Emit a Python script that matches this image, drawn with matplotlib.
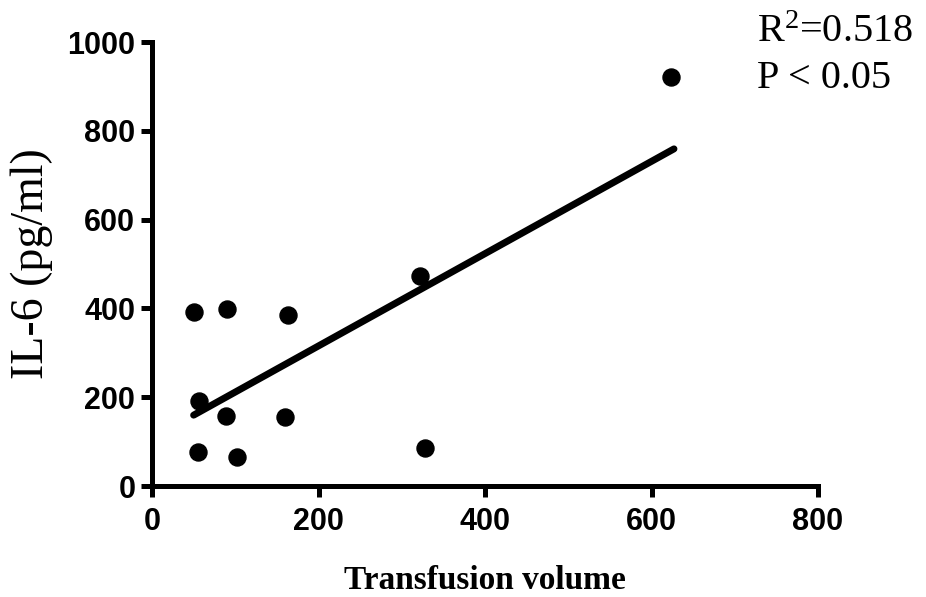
import numpy as np
import matplotlib
matplotlib.use("Agg")
import matplotlib.pyplot as plt

transfusion = [50, 90, 163, 56, 89, 160, 55, 102, 322, 328, 623]
il6 = [392, 399, 385, 191, 158, 155, 77, 65, 473, 86, 921]
x_ticks = [0, 200, 400, 600, 800]
y_ticks = [0, 200, 400, 600, 800, 1000]
stats_text = ["R$^{2}$=0.518", "P < 0.05"]

plt.rcParams['mathtext.fontset'] = 'custom'
plt.rcParams['mathtext.rm'] = 'Liberation Serif'
plt.rcParams['mathtext.it'] = 'Liberation Serif'

fig = plt.figure(figsize=(9.26, 5.97), dpi=100)
ax = fig.add_axes([152/926, 1-486/597, (818-152)/926, (486-42)/597])

x = np.array(transfusion, float)
y = np.array(il6, float)
slope, intercept = np.polyfit(x, y, 1)
xl = np.array([x.min(), x.max() + 4])
ax.plot(xl, slope*xl + intercept, color='black', lw=5, solid_capstyle='round', zorder=2)
ax.scatter(x, y, s=150, color='black', zorder=3, clip_on=False)

ax.set_xlim(0, 800)
ax.set_ylim(0, 1000)
ax.set_xticks(x_ticks)
ax.set_yticks(y_ticks)
for s in ['top', 'right']:
    ax.spines[s].set_visible(False)
for s in ['left', 'bottom']:
    ax.spines[s].set_linewidth(3.6)
ax.tick_params(width=3.6, length=8)
ax.tick_params(axis='x', pad=7)
ax.tick_params(axis='y', pad=4)
for lab in ax.get_xticklabels() + ax.get_yticklabels():
    lab.set_fontfamily('Liberation Sans')
    lab.set_fontweight('bold')
    lab.set_fontsize(22)

ax.set_xlabel("Transfusion volume", fontfamily='Liberation Serif', fontweight='bold',
              fontsize=24, labelpad=20)
ax.set_ylabel("IL-6 (pg/ml)", fontfamily='Liberation Serif', fontsize=33, labelpad=10)

fig.text(757/926, 1-32/597, stats_text[0], fontfamily='Liberation Serif', fontsize=29,
         va='center', ha='left')
fig.text(757/926, 1-79/597, stats_text[1], fontfamily='Liberation Serif', fontsize=29,
         va='center', ha='left')

fig.savefig("out.png", dpi=100)
